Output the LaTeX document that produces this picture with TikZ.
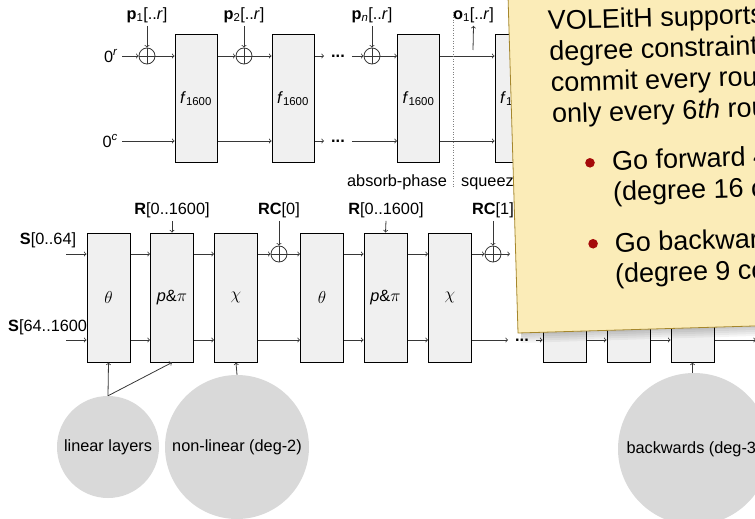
\documentclass[tikz,border=0pt]{standalone}
\usepackage{fontspec}
\setmainfont{Liberation Sans}
\usetikzlibrary{calc}
\definecolor{boxfill}{RGB}{240,240,240}
\definecolor{circfill}{RGB}{217,217,217}
\definecolor{notefill}{RGB}{251,236,184}
\definecolor{noteedge}{RGB}{165,135,45}
\definecolor{bulletred}{RGB}{165,10,10}
\definecolor{linecol}{RGB}{55,55,55}
\begin{document}
\begin{tikzpicture}[x=1pt,y=-1pt,
 every node/.style={font=\fontsize{16.3}{19}\selectfont, inner sep=0pt},
 fbox/.style={draw=black, line width=1pt, fill=boxfill, minimum width=42pt, minimum height=127pt},
 rbox/.style={draw=black, line width=1pt, fill=boxfill, minimum width=43pt, minimum height=129pt},
 xorc/.style={circle, draw=linecol, line width=0.8pt, minimum size=16pt,
   path picture={\draw[linecol, line width=0.8pt] (path picture bounding box.north) -- (path picture bounding box.south) (path picture bounding box.west) -- (path picture bounding box.east);}},
 conn/.style={draw=linecol, line width=0.8pt, ->},
 bubble/.style={circle, fill=circfill, inner sep=0pt},
 dotsn/.style={font=\fontsize{16.3}{19}\selectfont\bfseries, inner xsep=7pt},
 notetext/.style={anchor=base west, font=\fontsize{27}{32}\selectfont}
]
\useasboundingbox (0,0) rectangle (755,519);
\clip (0,0) rectangle (755,519);

% ---------- top row (sponge) ----------
\coordinate (rowR) at (0,56);
\coordinate (rowC) at (0,141);
\node[anchor=east] (zr) at (118,56) {0\textsuperscript{\textit{r}}};
\node[anchor=east] (zc) at (118,141) {0\textsuperscript{\textit{c}}};
\node[fbox] (f1) at (196,98.5) {\textit{f}\textsubscript{1600}};
\node[fbox] (f2) at (293,98.5) {\textit{f}\textsubscript{1600}};
\node[fbox] (f3) at (418.5,98.5) {\textit{f}\textsubscript{1600}};
\node[fbox] (f4) at (516,98.5) {\textit{f}\textsubscript{1600}};
\node[xorc] (x1) at (147,56) {};
\node[xorc] (x2) at (244,56) {};
\node[xorc] (x3) at (372,56) {};
\node (p1) at (147,15) {\textbf{p}\textsubscript{1}[..\textit{r}]};
\node (p2) at (244,15) {\textbf{p}\textsubscript{2}[..\textit{r}]};
\node (pn) at (372,15) {\textbf{p}\textsubscript{\textit{n}}[..\textit{r}]};
\node (o1) at (473.5,15) {\textbf{o}\textsubscript{1}[..\textit{r}]};
\node[dotsn] (dR) at (338,56) {...};
\node[dotsn] (dC) at (338,141) {...};
\coordinate (o1s) at (473,50);
\coordinate (sepT) at (453,12);
\coordinate (sepB) at (453,188);

\draw[conn] ([xshift=4pt]zr.east |- rowR) -- (x1.west);
\draw[conn] ([yshift=-3pt]p1.south) -- (x1.north);
\draw[conn] (x1.east) -- (f1.west |- rowR);
\draw[conn] (f1.east |- rowR) -- (x2.west);
\draw[conn] ([yshift=-3pt]p2.south) -- (x2.north);
\draw[conn] (x2.east) -- (f2.west |- rowR);
\draw[conn] (f2.east |- rowR) -- (dR.west);
\draw[conn] (dR.east) -- (x3.west);
\draw[conn] ([yshift=-3pt]pn.south) -- (x3.north);
\draw[conn] (x3.east) -- (f3.west |- rowR);
\draw[conn] (f3.east |- rowR) -- (f4.west |- rowR);
\draw[conn] ([xshift=4pt]zc.east |- rowC) -- (f1.west |- rowC);
\draw[conn] (f1.east |- rowC) -- (f2.west |- rowC);
\draw[conn] (f2.east |- rowC) -- (dC.west);
\draw[conn] (dC.east) -- (f3.west |- rowC);
\draw[conn] (f3.east |- rowC) -- (f4.west |- rowC);
\draw[conn] (o1s) -- ([yshift=-3pt]o1.south);
\draw[gray, dotted, line width=0.6pt] (sepT) -- (sepB);
\node (absorb) at (397,182) {absorb-phase};
\node[anchor=west] (squeeze) at (461,182) {squeeze-phase};

% ---------- bottom row (Keccak rounds) ----------
\coordinate (rowT) at (0,254);
\coordinate (rowB) at (0,340);
\node[anchor=west] (sB) at (8,327) {\textbf{S}[64..1600]};
\node (sA) at (48,240) {\textbf{S}[0..64]};
\node[rbox] (b1) at (108.5,297.5) {$\theta$};
\node[rbox] (b2) at (172,297.5) {\textit{p}\&$\pi$};
\node[rbox] (b3) at (236,297.5) {$\chi$};
\node[rbox] (b4) at (322,297.5) {$\theta$};
\node[rbox] (b5) at (385.5,297.5) {\textit{p}\&$\pi$};
\node[rbox] (b6) at (450,297.5) {$\chi$};
\node[rbox] (b7) at (564.5,297.5) {};
\node[rbox] (b8) at (628.5,297.5) {};
\node[rbox] (b9) at (692.5,297.5) {};
\node[xorc] (y1) at (279,254) {};
\node[xorc] (y2) at (493,254) {};
\node (r1) at (172,210) {\textbf{R}[0..1600]};
\node (rc0) at (279,210) {\textbf{RC}[0]};
\node (r2) at (386,210) {\textbf{R}[0..1600]};
\node (rc1) at (493,210) {\textbf{RC}[1]};
\node[dotsn] (dB) at (522,340) {...};
\coordinate (sAin) at (66,254);
\coordinate (sBin) at (66,340);
\coordinate (outT) at (510,254);
\coordinate (outB) at (756,340);

\draw[conn] (sAin) -- (b1.west |- rowT);
\draw[conn] (sBin) -- (b1.west |- rowB);
\draw[conn] (b1.east |- rowT) -- (b2.west |- rowT);
\draw[conn] (b1.east |- rowB) -- (b2.west |- rowB);
\draw[conn] (b2.east |- rowT) -- (b3.west |- rowT);
\draw[conn] (b2.east |- rowB) -- (b3.west |- rowB);
\draw[conn] (b3.east |- rowT) -- (y1.west);
\draw[conn] (y1.east) -- (b4.west |- rowT);
\draw[conn] (b3.east |- rowB) -- (b4.west |- rowB);
\draw[conn] (b4.east |- rowT) -- (b5.west |- rowT);
\draw[conn] (b4.east |- rowB) -- (b5.west |- rowB);
\draw[conn] (b5.east |- rowT) -- (b6.west |- rowT);
\draw[conn] (b5.east |- rowB) -- (b6.west |- rowB);
\draw[conn] (b6.east |- rowT) -- (y2.west);
\draw[conn] (y2.east) -- (outT);
\draw[conn] (b6.east |- rowB) -- (dB.west);
\draw[conn] (dB.east) -- (b7.west |- rowB);
\draw[conn] (b7.east |- rowB) -- (b8.west |- rowB);
\draw[conn] (b8.east |- rowB) -- (b9.west |- rowB);
\draw[conn] (b9.east |- rowB) -- (outB);
\draw[conn] ([yshift=-3pt]r1.south) -- (b2.north);
\draw[conn] ([yshift=-3pt]rc0.south) -- (y1.north);
\draw[conn] ([yshift=-3pt]r2.south) -- (b5.north);
\draw[conn] ([yshift=-3pt]rc1.south) -- (y2.north);

% ---------- bubbles ----------
\node[bubble, minimum size=102pt] (c1) at (108,447) {linear layers};
\node[bubble, minimum size=144pt] (c2) at (237,447) {non-linear (deg-2)};
\node[bubble, minimum size=152pt] (c3) at (694,449) {backwards (deg-3)};
\draw[conn] (c1.north) -- (b1.south);
\draw[conn] (c1.north) -- (b2.south);
\draw[conn] (c2.north) -- (b3.south);
\draw[conn] (b9.south |- c3.north) -- (b9.south);

% ---------- sticky note ----------
\begin{scope}[shift={(518,333)}, rotate=1.7, transform shape]
  \foreach \s in {2,4,6,8,10}
    \fill[black, fill opacity=0.045] (3,0) rectangle (330,\s);
  \filldraw[fill=notefill, draw=noteedge, line width=0.8pt] (0,0) rectangle (330,-420);
  \node[notetext] (n1) at (39,-302) {VOLEitH supports};
  \node[notetext] (n2) at (39.5,-271) {degree constraints};
  \node[notetext] (n3) at (40,-240) {commit every round};
  \node[notetext] (n4) at (40.3,-209) {only every 6\textit{th} round};
  \fill[bulletred] (77,-168) circle (4.8);
  \node[notetext] (n5) at (99,-160) {Go forward 4};
  \node[notetext] (n6) at (99,-129) {(degree 16 constraints)};
  \fill[bulletred] (77.7,-87) circle (4.8);
  \node[notetext] (n7) at (99.4,-78) {Go backwards};
  \node[notetext] (n8) at (98.5,-47) {(degree 9 constraints)};
\end{scope}
\end{tikzpicture}
\end{document}
